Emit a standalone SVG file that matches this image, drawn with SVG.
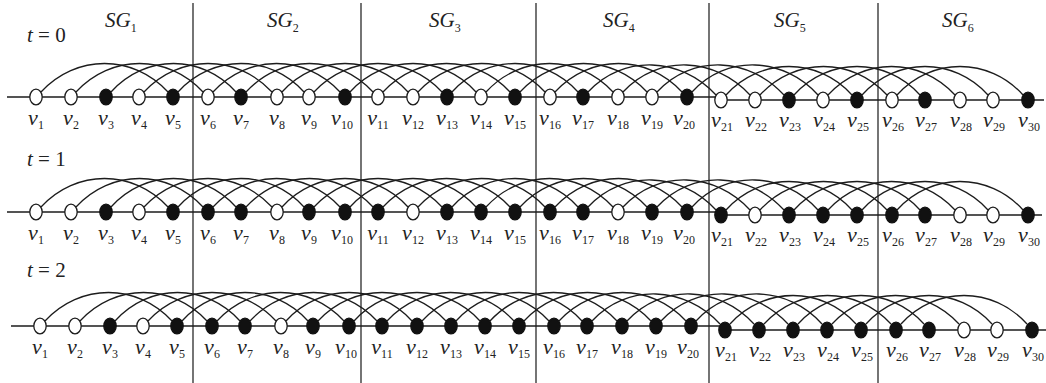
<svg xmlns="http://www.w3.org/2000/svg" xmlns:xlink="http://www.w3.org/1999/xlink" width="1046" height="383" viewBox="0 0 1046 383">
<style>
  .ln{fill:none;stroke:#1c1c1c;stroke-width:1.3}
  .dv{stroke:#2a2a2a;stroke-width:1.3}
  .o{fill:#fff;stroke:#1c1c1c;stroke-width:1.3}
  .f{fill:#111;stroke:#111;stroke-width:1.3}
  .lb{font-family:"Liberation Serif","Times New Roman",serif;font-style:italic;font-size:22px;fill:#222;text-anchor:middle}
  .sb{font-style:normal;font-size:12px}
  .hd{font-family:"Liberation Serif","Times New Roman",serif;font-size:21px;fill:#222}
  .it{font-style:italic}
</style>
<defs>
  <!-- each node joined to the node four places further along -->
  <g id="arcs" class="ln">
    <path d="M41,92 C76,54 133,54 168,92"/>
    <path d="M76,92 C111,54 168,54 203,92"/>
    <path d="M111,92 C145,54 202,54 236,92"/>
    <path d="M144,92 C179,54 237,54 272,92"/>
    <path d="M178,92 C212,54 270,54 304,92"/>
    <path d="M213,92 C248,54 305,54 340,92"/>
    <path d="M246,92 C281,54 338,54 373,92"/>
    <path d="M282,92 C316,54 374,54 408,92"/>
    <path d="M314,92 C349,54 407,54 442,92"/>
    <path d="M350,92 C384,54 442,54 476,92"/>
    <path d="M383,92 C418,54 475,54 510,92"/>
    <path d="M418,92 C453,54 510,54 545,92"/>
    <path d="M452,92 C486,54 544,54 578,92"/>
    <path d="M486,92 C521,54 578,54 613,92"/>
    <path d="M520,92 C555,54 612,54 647,92"/>
    <path d="M555,92 C590,54 647,54 682,92"/>
    <path d="M588,92 C623,54 681,57 716,95"/>
    <path d="M623,92 C658,54 715,57 750,95"/>
    <path d="M657,92 C692,54 749,57 784,95"/>
    <path d="M692,92 C726,54 784,57 818,95"/>
    <path d="M726,95 C760,57 818,57 852,95"/>
    <path d="M760,95 C795,57 852,57 887,95"/>
    <path d="M794,95 C828,57 886,57 920,95"/>
    <path d="M828,95 C863,57 920,57 955,95"/>
    <path d="M862,95 C896,57 954,57 988,95"/>
    <path d="M897,95 C931,57 989,57 1023,95"/>
  </g>
</defs>

<!-- subgroup dividers -->
<g id="dividers" class="dv">
  <line x1="193" y1="3" x2="193" y2="383"/>
  <line x1="361" y1="3" x2="361" y2="383"/>
  <line x1="536" y1="3" x2="536" y2="383"/>
  <line x1="709" y1="3" x2="709" y2="383"/>
  <line x1="878" y1="3" x2="878" y2="383"/>
</g>

<!-- headings -->
<g id="headings" class="hd">
  <text x="105" y="27" class="it">SG<tspan class="sb" dy="5">1</tspan></text>
  <text x="267" y="27" class="it">SG<tspan class="sb" dy="5">2</tspan></text>
  <text x="429" y="27" class="it">SG<tspan class="sb" dy="5">3</tspan></text>
  <text x="603" y="27" class="it">SG<tspan class="sb" dy="5">4</tspan></text>
  <text x="774" y="27" class="it">SG<tspan class="sb" dy="5">5</tspan></text>
  <text x="942" y="27" class="it">SG<tspan class="sb" dy="5">6</tspan></text>
  <text x="27" y="42"><tspan class="it">t</tspan> = 0</text>
  <text x="27" y="166"><tspan class="it">t</tspan> = 1</text>
  <text x="27" y="277"><tspan class="it">t</tspan> = 2</text>
</g>

<!-- connectors: baselines and arcs of the three time steps -->
<g id="connectors" class="ln">
  <path d="M7,97 H716 M716,100 H1044"/>
  <path d="M7,212 H716 M716,215 H1042"/>
  <path d="M11,326 H720 M720,330 H1046"/>
  <use xlink:href="#arcs"/>
  <use xlink:href="#arcs" transform="translate(0,115)"/>
  <use xlink:href="#arcs" transform="translate(4,229)"/>
</g>

<!-- t = 0 -->
<g id="row-t0">
  <g id="t0-v1"><ellipse class="o" cx="36" cy="97" rx="6.2" ry="7.8"/><text class="lb" x="36" y="125">v<tspan class="sb" dy="4">1</tspan></text></g>
  <g id="t0-v2"><ellipse class="o" cx="71" cy="97" rx="6.2" ry="7.8"/><text class="lb" x="71" y="125">v<tspan class="sb" dy="4">2</tspan></text></g>
  <g id="t0-v3"><ellipse class="f" cx="106" cy="97" rx="6.2" ry="7.8"/><text class="lb" x="106" y="125">v<tspan class="sb" dy="4">3</tspan></text></g>
  <g id="t0-v4"><ellipse class="o" cx="139" cy="97" rx="6.2" ry="7.8"/><text class="lb" x="139" y="125">v<tspan class="sb" dy="4">4</tspan></text></g>
  <g id="t0-v5"><ellipse class="f" cx="173" cy="97" rx="6.2" ry="7.8"/><text class="lb" x="173" y="125">v<tspan class="sb" dy="4">5</tspan></text></g>
  <g id="t0-v6"><ellipse class="o" cx="208" cy="97" rx="6.2" ry="7.8"/><text class="lb" x="208" y="125">v<tspan class="sb" dy="4">6</tspan></text></g>
  <g id="t0-v7"><ellipse class="f" cx="241" cy="97" rx="6.2" ry="7.8"/><text class="lb" x="241" y="125">v<tspan class="sb" dy="4">7</tspan></text></g>
  <g id="t0-v8"><ellipse class="o" cx="277" cy="97" rx="6.2" ry="7.8"/><text class="lb" x="277" y="125">v<tspan class="sb" dy="4">8</tspan></text></g>
  <g id="t0-v9"><ellipse class="o" cx="309" cy="97" rx="6.2" ry="7.8"/><text class="lb" x="309" y="125">v<tspan class="sb" dy="4">9</tspan></text></g>
  <g id="t0-v10"><ellipse class="f" cx="345" cy="97" rx="6.2" ry="7.8"/><text class="lb" x="342" y="125">v<tspan class="sb" dy="4">10</tspan></text></g>
  <g id="t0-v11"><ellipse class="o" cx="378" cy="97" rx="6.2" ry="7.8"/><text class="lb" x="378" y="125">v<tspan class="sb" dy="4">11</tspan></text></g>
  <g id="t0-v12"><ellipse class="o" cx="413" cy="97" rx="6.2" ry="7.8"/><text class="lb" x="413" y="125">v<tspan class="sb" dy="4">12</tspan></text></g>
  <g id="t0-v13"><ellipse class="f" cx="447" cy="97" rx="6.2" ry="7.8"/><text class="lb" x="447" y="125">v<tspan class="sb" dy="4">13</tspan></text></g>
  <g id="t0-v14"><ellipse class="o" cx="481" cy="97" rx="6.2" ry="7.8"/><text class="lb" x="481" y="125">v<tspan class="sb" dy="4">14</tspan></text></g>
  <g id="t0-v15"><ellipse class="f" cx="515" cy="97" rx="6.2" ry="7.8"/><text class="lb" x="515" y="125">v<tspan class="sb" dy="4">15</tspan></text></g>
  <g id="t0-v16"><ellipse class="o" cx="550" cy="97" rx="6.2" ry="7.8"/><text class="lb" x="550" y="125">v<tspan class="sb" dy="4">16</tspan></text></g>
  <g id="t0-v17"><ellipse class="f" cx="583" cy="97" rx="6.2" ry="7.8"/><text class="lb" x="583" y="125">v<tspan class="sb" dy="4">17</tspan></text></g>
  <g id="t0-v18"><ellipse class="o" cx="618" cy="97" rx="6.2" ry="7.8"/><text class="lb" x="618" y="125">v<tspan class="sb" dy="4">18</tspan></text></g>
  <g id="t0-v19"><ellipse class="o" cx="652" cy="97" rx="6.2" ry="7.8"/><text class="lb" x="652" y="125">v<tspan class="sb" dy="4">19</tspan></text></g>
  <g id="t0-v20"><ellipse class="f" cx="687" cy="97" rx="6.2" ry="7.8"/><text class="lb" x="684" y="125">v<tspan class="sb" dy="4">20</tspan></text></g>
  <g id="t0-v21"><ellipse class="o" cx="721" cy="100" rx="6.2" ry="7.8"/><text class="lb" x="722" y="127">v<tspan class="sb" dy="4">21</tspan></text></g>
  <g id="t0-v22"><ellipse class="o" cx="755" cy="100" rx="6.2" ry="7.8"/><text class="lb" x="756" y="127">v<tspan class="sb" dy="4">22</tspan></text></g>
  <g id="t0-v23"><ellipse class="f" cx="789" cy="100" rx="6.2" ry="7.8"/><text class="lb" x="790" y="127">v<tspan class="sb" dy="4">23</tspan></text></g>
  <g id="t0-v24"><ellipse class="o" cx="823" cy="100" rx="6.2" ry="7.8"/><text class="lb" x="824" y="127">v<tspan class="sb" dy="4">24</tspan></text></g>
  <g id="t0-v25"><ellipse class="f" cx="857" cy="100" rx="6.2" ry="7.8"/><text class="lb" x="858" y="127">v<tspan class="sb" dy="4">25</tspan></text></g>
  <g id="t0-v26"><ellipse class="o" cx="892" cy="100" rx="6.2" ry="7.8"/><text class="lb" x="893" y="127">v<tspan class="sb" dy="4">26</tspan></text></g>
  <g id="t0-v27"><ellipse class="f" cx="925" cy="100" rx="6.2" ry="7.8"/><text class="lb" x="926" y="127">v<tspan class="sb" dy="4">27</tspan></text></g>
  <g id="t0-v28"><ellipse class="o" cx="960" cy="100" rx="6.2" ry="7.8"/><text class="lb" x="961" y="127">v<tspan class="sb" dy="4">28</tspan></text></g>
  <g id="t0-v29"><ellipse class="o" cx="993" cy="100" rx="6.2" ry="7.8"/><text class="lb" x="994" y="127">v<tspan class="sb" dy="4">29</tspan></text></g>
  <g id="t0-v30"><ellipse class="f" cx="1028" cy="100" rx="6.2" ry="7.8"/><text class="lb" x="1029" y="127">v<tspan class="sb" dy="4">30</tspan></text></g>
</g>

<!-- t = 1 -->
<g id="row-t1">
  <g id="t1-v1"><ellipse class="o" cx="36" cy="212" rx="6.2" ry="7.8"/><text class="lb" x="36" y="240">v<tspan class="sb" dy="4">1</tspan></text></g>
  <g id="t1-v2"><ellipse class="o" cx="71" cy="212" rx="6.2" ry="7.8"/><text class="lb" x="71" y="240">v<tspan class="sb" dy="4">2</tspan></text></g>
  <g id="t1-v3"><ellipse class="f" cx="106" cy="212" rx="6.2" ry="7.8"/><text class="lb" x="106" y="240">v<tspan class="sb" dy="4">3</tspan></text></g>
  <g id="t1-v4"><ellipse class="o" cx="139" cy="212" rx="6.2" ry="7.8"/><text class="lb" x="139" y="240">v<tspan class="sb" dy="4">4</tspan></text></g>
  <g id="t1-v5"><ellipse class="f" cx="173" cy="212" rx="6.2" ry="7.8"/><text class="lb" x="173" y="240">v<tspan class="sb" dy="4">5</tspan></text></g>
  <g id="t1-v6"><ellipse class="f" cx="208" cy="212" rx="6.2" ry="7.8"/><text class="lb" x="208" y="240">v<tspan class="sb" dy="4">6</tspan></text></g>
  <g id="t1-v7"><ellipse class="f" cx="241" cy="212" rx="6.2" ry="7.8"/><text class="lb" x="241" y="240">v<tspan class="sb" dy="4">7</tspan></text></g>
  <g id="t1-v8"><ellipse class="o" cx="277" cy="212" rx="6.2" ry="7.8"/><text class="lb" x="277" y="240">v<tspan class="sb" dy="4">8</tspan></text></g>
  <g id="t1-v9"><ellipse class="f" cx="309" cy="212" rx="6.2" ry="7.8"/><text class="lb" x="309" y="240">v<tspan class="sb" dy="4">9</tspan></text></g>
  <g id="t1-v10"><ellipse class="f" cx="345" cy="212" rx="6.2" ry="7.8"/><text class="lb" x="342" y="240">v<tspan class="sb" dy="4">10</tspan></text></g>
  <g id="t1-v11"><ellipse class="f" cx="378" cy="212" rx="6.2" ry="7.8"/><text class="lb" x="378" y="240">v<tspan class="sb" dy="4">11</tspan></text></g>
  <g id="t1-v12"><ellipse class="o" cx="413" cy="212" rx="6.2" ry="7.8"/><text class="lb" x="413" y="240">v<tspan class="sb" dy="4">12</tspan></text></g>
  <g id="t1-v13"><ellipse class="f" cx="447" cy="212" rx="6.2" ry="7.8"/><text class="lb" x="447" y="240">v<tspan class="sb" dy="4">13</tspan></text></g>
  <g id="t1-v14"><ellipse class="f" cx="481" cy="212" rx="6.2" ry="7.8"/><text class="lb" x="481" y="240">v<tspan class="sb" dy="4">14</tspan></text></g>
  <g id="t1-v15"><ellipse class="f" cx="515" cy="212" rx="6.2" ry="7.8"/><text class="lb" x="515" y="240">v<tspan class="sb" dy="4">15</tspan></text></g>
  <g id="t1-v16"><ellipse class="f" cx="550" cy="212" rx="6.2" ry="7.8"/><text class="lb" x="550" y="240">v<tspan class="sb" dy="4">16</tspan></text></g>
  <g id="t1-v17"><ellipse class="f" cx="583" cy="212" rx="6.2" ry="7.8"/><text class="lb" x="583" y="240">v<tspan class="sb" dy="4">17</tspan></text></g>
  <g id="t1-v18"><ellipse class="o" cx="618" cy="212" rx="6.2" ry="7.8"/><text class="lb" x="618" y="240">v<tspan class="sb" dy="4">18</tspan></text></g>
  <g id="t1-v19"><ellipse class="f" cx="652" cy="212" rx="6.2" ry="7.8"/><text class="lb" x="652" y="240">v<tspan class="sb" dy="4">19</tspan></text></g>
  <g id="t1-v20"><ellipse class="f" cx="687" cy="212" rx="6.2" ry="7.8"/><text class="lb" x="684" y="240">v<tspan class="sb" dy="4">20</tspan></text></g>
  <g id="t1-v21"><ellipse class="f" cx="721" cy="215" rx="6.2" ry="7.8"/><text class="lb" x="722" y="242">v<tspan class="sb" dy="4">21</tspan></text></g>
  <g id="t1-v22"><ellipse class="o" cx="755" cy="215" rx="6.2" ry="7.8"/><text class="lb" x="756" y="242">v<tspan class="sb" dy="4">22</tspan></text></g>
  <g id="t1-v23"><ellipse class="f" cx="789" cy="215" rx="6.2" ry="7.8"/><text class="lb" x="790" y="242">v<tspan class="sb" dy="4">23</tspan></text></g>
  <g id="t1-v24"><ellipse class="f" cx="823" cy="215" rx="6.2" ry="7.8"/><text class="lb" x="824" y="242">v<tspan class="sb" dy="4">24</tspan></text></g>
  <g id="t1-v25"><ellipse class="f" cx="857" cy="215" rx="6.2" ry="7.8"/><text class="lb" x="858" y="242">v<tspan class="sb" dy="4">25</tspan></text></g>
  <g id="t1-v26"><ellipse class="f" cx="892" cy="215" rx="6.2" ry="7.8"/><text class="lb" x="893" y="242">v<tspan class="sb" dy="4">26</tspan></text></g>
  <g id="t1-v27"><ellipse class="f" cx="925" cy="215" rx="6.2" ry="7.8"/><text class="lb" x="926" y="242">v<tspan class="sb" dy="4">27</tspan></text></g>
  <g id="t1-v28"><ellipse class="o" cx="960" cy="215" rx="6.2" ry="7.8"/><text class="lb" x="961" y="242">v<tspan class="sb" dy="4">28</tspan></text></g>
  <g id="t1-v29"><ellipse class="o" cx="993" cy="215" rx="6.2" ry="7.8"/><text class="lb" x="994" y="242">v<tspan class="sb" dy="4">29</tspan></text></g>
  <g id="t1-v30"><ellipse class="f" cx="1028" cy="215" rx="6.2" ry="7.8"/><text class="lb" x="1029" y="242">v<tspan class="sb" dy="4">30</tspan></text></g>
</g>

<!-- t = 2 -->
<g id="row-t2">
  <g id="t2-v1"><ellipse class="o" cx="40" cy="326" rx="6.2" ry="7.8"/><text class="lb" x="40" y="354">v<tspan class="sb" dy="4">1</tspan></text></g>
  <g id="t2-v2"><ellipse class="o" cx="75" cy="326" rx="6.2" ry="7.8"/><text class="lb" x="75" y="354">v<tspan class="sb" dy="4">2</tspan></text></g>
  <g id="t2-v3"><ellipse class="f" cx="110" cy="326" rx="6.2" ry="7.8"/><text class="lb" x="110" y="354">v<tspan class="sb" dy="4">3</tspan></text></g>
  <g id="t2-v4"><ellipse class="o" cx="143" cy="326" rx="6.2" ry="7.8"/><text class="lb" x="143" y="354">v<tspan class="sb" dy="4">4</tspan></text></g>
  <g id="t2-v5"><ellipse class="f" cx="177" cy="326" rx="6.2" ry="7.8"/><text class="lb" x="177" y="354">v<tspan class="sb" dy="4">5</tspan></text></g>
  <g id="t2-v6"><ellipse class="f" cx="212" cy="326" rx="6.2" ry="7.8"/><text class="lb" x="212" y="354">v<tspan class="sb" dy="4">6</tspan></text></g>
  <g id="t2-v7"><ellipse class="f" cx="245" cy="326" rx="6.2" ry="7.8"/><text class="lb" x="245" y="354">v<tspan class="sb" dy="4">7</tspan></text></g>
  <g id="t2-v8"><ellipse class="o" cx="281" cy="326" rx="6.2" ry="7.8"/><text class="lb" x="281" y="354">v<tspan class="sb" dy="4">8</tspan></text></g>
  <g id="t2-v9"><ellipse class="f" cx="313" cy="326" rx="6.2" ry="7.8"/><text class="lb" x="313" y="354">v<tspan class="sb" dy="4">9</tspan></text></g>
  <g id="t2-v10"><ellipse class="f" cx="349" cy="326" rx="6.2" ry="7.8"/><text class="lb" x="346" y="354">v<tspan class="sb" dy="4">10</tspan></text></g>
  <g id="t2-v11"><ellipse class="f" cx="382" cy="326" rx="6.2" ry="7.8"/><text class="lb" x="382" y="354">v<tspan class="sb" dy="4">11</tspan></text></g>
  <g id="t2-v12"><ellipse class="f" cx="417" cy="326" rx="6.2" ry="7.8"/><text class="lb" x="417" y="354">v<tspan class="sb" dy="4">12</tspan></text></g>
  <g id="t2-v13"><ellipse class="f" cx="451" cy="326" rx="6.2" ry="7.8"/><text class="lb" x="451" y="354">v<tspan class="sb" dy="4">13</tspan></text></g>
  <g id="t2-v14"><ellipse class="f" cx="485" cy="326" rx="6.2" ry="7.8"/><text class="lb" x="485" y="354">v<tspan class="sb" dy="4">14</tspan></text></g>
  <g id="t2-v15"><ellipse class="f" cx="519" cy="326" rx="6.2" ry="7.8"/><text class="lb" x="519" y="354">v<tspan class="sb" dy="4">15</tspan></text></g>
  <g id="t2-v16"><ellipse class="f" cx="554" cy="326" rx="6.2" ry="7.8"/><text class="lb" x="554" y="354">v<tspan class="sb" dy="4">16</tspan></text></g>
  <g id="t2-v17"><ellipse class="f" cx="587" cy="326" rx="6.2" ry="7.8"/><text class="lb" x="587" y="354">v<tspan class="sb" dy="4">17</tspan></text></g>
  <g id="t2-v18"><ellipse class="f" cx="622" cy="326" rx="6.2" ry="7.8"/><text class="lb" x="622" y="354">v<tspan class="sb" dy="4">18</tspan></text></g>
  <g id="t2-v19"><ellipse class="f" cx="656" cy="326" rx="6.2" ry="7.8"/><text class="lb" x="656" y="354">v<tspan class="sb" dy="4">19</tspan></text></g>
  <g id="t2-v20"><ellipse class="f" cx="691" cy="326" rx="6.2" ry="7.8"/><text class="lb" x="688" y="354">v<tspan class="sb" dy="4">20</tspan></text></g>
  <g id="t2-v21"><ellipse class="f" cx="725" cy="330" rx="6.2" ry="7.8"/><text class="lb" x="726" y="357">v<tspan class="sb" dy="4">21</tspan></text></g>
  <g id="t2-v22"><ellipse class="f" cx="759" cy="330" rx="6.2" ry="7.8"/><text class="lb" x="760" y="357">v<tspan class="sb" dy="4">22</tspan></text></g>
  <g id="t2-v23"><ellipse class="f" cx="793" cy="330" rx="6.2" ry="7.8"/><text class="lb" x="794" y="357">v<tspan class="sb" dy="4">23</tspan></text></g>
  <g id="t2-v24"><ellipse class="f" cx="827" cy="330" rx="6.2" ry="7.8"/><text class="lb" x="828" y="357">v<tspan class="sb" dy="4">24</tspan></text></g>
  <g id="t2-v25"><ellipse class="f" cx="861" cy="330" rx="6.2" ry="7.8"/><text class="lb" x="862" y="357">v<tspan class="sb" dy="4">25</tspan></text></g>
  <g id="t2-v26"><ellipse class="f" cx="896" cy="330" rx="6.2" ry="7.8"/><text class="lb" x="897" y="357">v<tspan class="sb" dy="4">26</tspan></text></g>
  <g id="t2-v27"><ellipse class="f" cx="929" cy="330" rx="6.2" ry="7.8"/><text class="lb" x="930" y="357">v<tspan class="sb" dy="4">27</tspan></text></g>
  <g id="t2-v28"><ellipse class="o" cx="964" cy="330" rx="6.2" ry="7.8"/><text class="lb" x="965" y="357">v<tspan class="sb" dy="4">28</tspan></text></g>
  <g id="t2-v29"><ellipse class="o" cx="997" cy="330" rx="6.2" ry="7.8"/><text class="lb" x="998" y="357">v<tspan class="sb" dy="4">29</tspan></text></g>
  <g id="t2-v30"><ellipse class="f" cx="1032" cy="330" rx="6.2" ry="7.8"/><text class="lb" x="1033" y="357">v<tspan class="sb" dy="4">30</tspan></text></g>
</g>
</svg>
